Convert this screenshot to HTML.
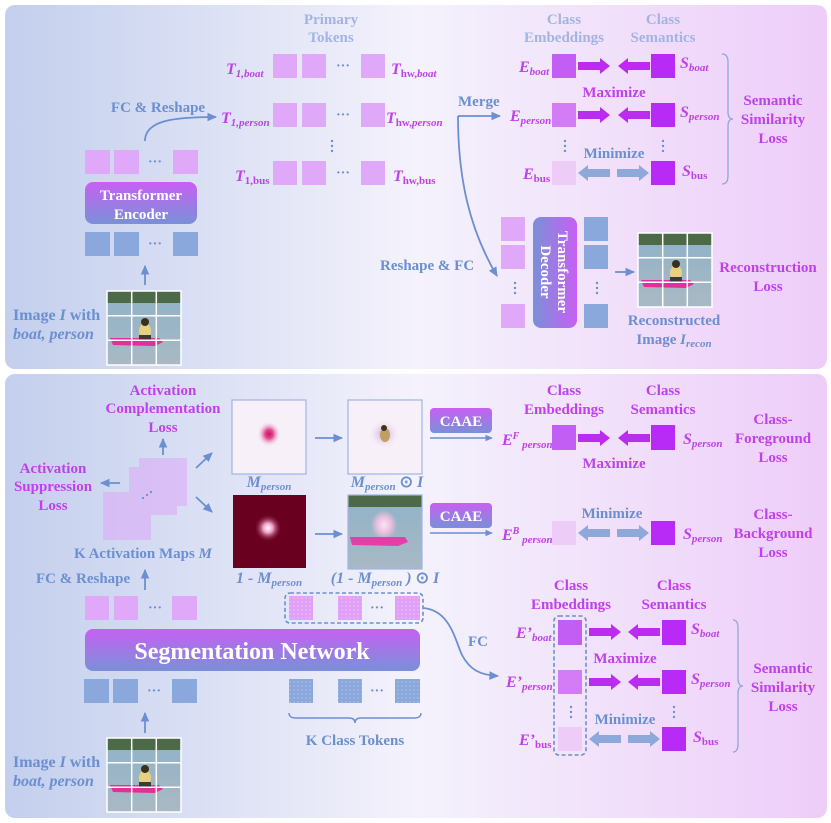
<!DOCTYPE html>
<html><head><meta charset="utf-8"><style>
html,body{margin:0;padding:0;background:#fff;}
svg{display:block;font-family:"Liberation Serif",serif;font-weight:bold;}
</style></head><body>
<svg width="831" height="823" viewBox="0 0 831 823" xmlns="http://www.w3.org/2000/svg">
<defs>
<linearGradient id="bg" x1="0" x2="1" y1="0" y2="0">
<stop offset="0" stop-color="#c3cfed"/><stop offset="0.5" stop-color="#f4f2fc"/><stop offset="1" stop-color="#eecdf9"/>
</linearGradient>
<linearGradient id="box" x1="0" x2="0" y1="0" y2="1">
<stop offset="0" stop-color="#c760f3"/><stop offset="1" stop-color="#7a90d8"/>
</linearGradient>
<linearGradient id="boxh" x1="0" x2="1" y1="0" y2="0">
<stop offset="0" stop-color="#7a90d8"/><stop offset="1" stop-color="#c760f3"/>
</linearGradient>
<linearGradient id="water" x1="0" x2="0" y1="0" y2="1">
<stop offset="0" stop-color="#8fb2c8"/><stop offset="1" stop-color="#a9b9c4"/>
</linearGradient>
<radialGradient id="blob"><stop offset="0" stop-color="#d0105a"/><stop offset="0.35" stop-color="#e04a90"/><stop offset="1" stop-color="#f6f0f8" stop-opacity="0"/></radialGradient>
<radialGradient id="blobw"><stop offset="0" stop-color="#ffffff"/><stop offset="0.35" stop-color="#f0a0c8"/><stop offset="1" stop-color="#6a0020" stop-opacity="0"/></radialGradient>
<radialGradient id="halo"><stop offset="0" stop-color="#f4e8f0"/><stop offset="0.5" stop-color="#f0c0e0"/><stop offset="1" stop-color="#f0c0e0" stop-opacity="0"/></radialGradient>
<radialGradient id="halo2"><stop offset="0" stop-color="#b060c0" stop-opacity="0.6"/><stop offset="1" stop-color="#f7f0f8" stop-opacity="0"/></radialGradient>
<pattern id="dots" width="4" height="4" patternUnits="userSpaceOnUse"><circle cx="2" cy="2" r="0.6" fill="#ffffff" opacity="0.5"/></pattern>
<marker id="ah" viewBox="0 0 10 10" refX="8" refY="5" markerWidth="6" markerHeight="6" orient="auto"><path d="M0,1 L9,5 L0,9 z" fill="#6b8fd0"/></marker>
<g id="photo">
<rect width="74" height="74" fill="url(#water)"/>
<rect width="74" height="12" fill="#4d6a48"/>
<path d="M3,47 L52,47 L56,51 L48,55 L6,54 z" fill="#e2309a"/>
<ellipse cx="38" cy="40" rx="6" ry="8" fill="#e8d080"/>
<circle cx="38" cy="31" r="4" fill="#3a3020"/>
<rect x="32" y="44" width="12" height="6" fill="#3a3a3a"/>
<path d="M0,24.7H74M0,49.3H74M24.7,0V74M49.3,0V74" stroke="#fff" stroke-width="1.5"/>
<rect width="74" height="74" fill="none" stroke="#fff" stroke-width="1.5"/>
</g>
<polygon id="arm" points="0,-4 22,-4 22,-8 32,0 22,8 22,4 0,4" fill="#bb2cf0"/>
<polygon id="arb" points="0,-4 22,-4 22,-8 32,0 22,8 22,4 0,4" fill="#8fa8da"/>
</defs>

<rect x="5" y="5" width="822" height="364" rx="10" fill="url(#bg)"/>
<rect x="5" y="374" width="822" height="444" rx="10" fill="url(#bg)"/>

<!-- ========== TOP PANEL ========== -->
<g fill="#a3b3e2" font-size="15" text-anchor="middle">
<text x="331" y="24">Primary</text><text x="331" y="42">Tokens</text>
</g>
<g fill="#e0a8f8">
<rect x="273" y="54" width="24" height="24"/><rect x="302" y="54" width="24" height="24"/><rect x="361" y="54" width="24" height="24"/>
<rect x="273" y="103" width="24" height="24"/><rect x="302" y="103" width="24" height="24"/><rect x="361" y="103" width="24" height="24"/>
<rect x="273" y="161" width="24" height="24"/><rect x="302" y="161" width="24" height="24"/><rect x="361" y="161" width="24" height="24"/>
</g>
<g fill="#6b8fd0" font-size="14" text-anchor="middle">
<text x="343" y="70">···</text><text x="343" y="119">···</text><text x="343" y="177">···</text>
</g>
<g fill="#6b8fd0"><circle cx="332" cy="141" r="1.2"/><circle cx="332" cy="146" r="1.2"/><circle cx="332" cy="151" r="1.2"/></g>
<g fill="#c040ec" font-style="italic" font-size="16">
<text x="226" y="74">T<tspan font-size="11" dy="3">1,boat</tspan></text>
<text x="221" y="123">T<tspan font-size="11" dy="3">1,person</tspan></text>
<text x="235" y="181">T<tspan font-size="11" dy="3" font-style="normal">1,bus</tspan></text>
<text x="391" y="74">T<tspan font-size="11" dy="3" font-style="normal">hw,</tspan><tspan font-size="11">boat</tspan></text>
<text x="386" y="123">T<tspan font-size="11" dy="3" font-style="normal">hw,</tspan><tspan font-size="11">person</tspan></text>
<text x="393" y="181">T<tspan font-size="11" dy="3" font-style="normal">hw,bus</tspan></text>
</g>
<text x="158" y="112" fill="#6b8fd0" font-size="15" text-anchor="middle">FC &amp; Reshape</text>
<path d="M145,141 C145,120 175,117 216,117" fill="none" stroke="#6b8fd0" stroke-width="1.8" marker-end="url(#ah)"/>
<g fill="#e0a8f8"><rect x="85" y="150" width="25" height="24"/><rect x="114" y="150" width="25" height="24"/><rect x="173" y="150" width="25" height="24"/></g>
<text x="155" y="166" fill="#6b8fd0" font-size="14" text-anchor="middle">···</text>
<rect x="85" y="182" width="112" height="42" rx="8" fill="url(#box)"/>
<text x="141" y="200" fill="#fff" font-size="15" text-anchor="middle">Transformer</text>
<text x="141" y="219" fill="#fff" font-size="15" text-anchor="middle">Encoder</text>
<g fill="#8aa8dc"><rect x="85" y="232" width="25" height="24"/><rect x="114" y="232" width="25" height="24"/><rect x="173" y="232" width="25" height="24"/></g>
<text x="155" y="248" fill="#6b8fd0" font-size="14" text-anchor="middle">···</text>
<line x1="145" y1="285" x2="145" y2="266" stroke="#6b8fd0" stroke-width="1.8" marker-end="url(#ah)"/>
<use href="#photo" x="107" y="291"/>
<g fill="#6b8fd0" font-size="16"><text x="13" y="320">Image <tspan font-style="italic">I</tspan> with</text><text x="13" y="339" font-style="italic">boat, person</text></g>

<!-- right top -->
<g fill="#a3b3e2" font-size="15" text-anchor="middle">
<text x="564" y="24">Class</text><text x="564" y="42">Embeddings</text>
<text x="663" y="24">Class</text><text x="663" y="42">Semantics</text>
</g>
<rect x="552" y="54" width="24" height="24" fill="#c35ef5"/>
<rect x="552" y="103" width="24" height="24" fill="#d37cf5"/>
<rect x="552" y="161" width="24" height="24" fill="#eeccf8"/>
<g fill="#b82af5"><rect x="651" y="54" width="24" height="24"/><rect x="651" y="103" width="24" height="24"/><rect x="651" y="161" width="24" height="24"/></g>
<use href="#arm" x="578" y="66"/><use href="#arm" transform="translate(650,66) scale(-1,1)"/>
<use href="#arm" x="578" y="115"/><use href="#arm" transform="translate(650,115) scale(-1,1)"/>
<use href="#arb" transform="translate(610,173) scale(-1,1)"/><use href="#arb" x="617" y="173"/>
<g fill="#6b8fd0"><circle cx="565" cy="141" r="1.2"/><circle cx="565" cy="146" r="1.2"/><circle cx="565" cy="151" r="1.2"/><circle cx="663" cy="141" r="1.2"/><circle cx="663" cy="146" r="1.2"/><circle cx="663" cy="151" r="1.2"/></g>
<text x="614" y="97" fill="#c040ec" font-size="15" text-anchor="middle">Maximize</text>
<text x="614" y="158" fill="#6b8fd0" font-size="15" text-anchor="middle">Minimize</text>
<g fill="#c040ec" font-style="italic" font-size="16">
<text x="519" y="72">E<tspan font-size="11" dy="3">boat</tspan></text>
<text x="510" y="121">E<tspan font-size="11" dy="3">person</tspan></text>
<text x="523" y="179">E<tspan font-size="11" dy="3" font-style="normal">bus</tspan></text>
<text x="680" y="68">S<tspan font-size="11" dy="3">boat</tspan></text>
<text x="680" y="117">S<tspan font-size="11" dy="3">person</tspan></text>
<text x="682" y="176">S<tspan font-size="11" dy="3" font-style="normal">bus</tspan></text>
</g>
<path d="M722,54 Q728,54 728,62 L728,112 Q728,119 733,119 Q728,119 728,126 L728,176 Q728,184 722,184" fill="none" stroke="#8fa8da" stroke-width="1.3"/>
<g fill="#c040ec" font-size="15" text-anchor="middle"><text x="773" y="105">Semantic</text><text x="773" y="124">Similarity</text><text x="773" y="143">Loss</text></g>
<text x="458" y="106" fill="#6b8fd0" font-size="15">Merge</text>
<path d="M458,116 C458,180 470,230 497,276" fill="none" stroke="#6b8fd0" stroke-width="1.8" marker-end="url(#ah)"/>
<path d="M458,116 L500,116" fill="none" stroke="#6b8fd0" stroke-width="1.8" marker-end="url(#ah)"/>
<text x="380" y="270" fill="#6b8fd0" font-size="15">Reshape &amp; FC</text>
<g fill="#e0a8f8"><rect x="501" y="217" width="24" height="24"/><rect x="501" y="245" width="24" height="24"/><rect x="501" y="304" width="24" height="24"/></g>
<g fill="#8aa8dc"><rect x="584" y="217" width="24" height="24"/><rect x="584" y="245" width="24" height="24"/><rect x="584" y="304" width="24" height="24"/></g>
<g fill="#6b8fd0"><circle cx="515" cy="283" r="1.2"/><circle cx="515" cy="288" r="1.2"/><circle cx="515" cy="293" r="1.2"/><circle cx="597" cy="283" r="1.2"/><circle cx="597" cy="288" r="1.2"/><circle cx="597" cy="293" r="1.2"/></g>
<rect x="533" y="217" width="44" height="111" rx="8" fill="url(#boxh)"/>
<g transform="translate(555,272) rotate(90)" fill="#fff" font-size="15" text-anchor="middle"><text x="0" y="-3">Transformer</text><text x="0" y="14">Decoder</text></g>
<line x1="615" y1="272" x2="634" y2="272" stroke="#6b8fd0" stroke-width="1.8" marker-end="url(#ah)"/>
<use href="#photo" x="638" y="233"/>
<g fill="#c040ec" font-size="15" text-anchor="middle"><text x="768" y="272">Reconstruction</text><text x="768" y="291">Loss</text></g>
<g fill="#6b8fd0" font-size="15" text-anchor="middle"><text x="674" y="325">Reconstructed</text><text x="674" y="344">Image <tspan font-style="italic">I</tspan><tspan font-style="italic" font-size="11" dy="3">recon</tspan></text></g>

<!-- ========== BOTTOM PANEL ========== -->
<g fill="#c040ec" font-size="15" text-anchor="middle">
<text x="163" y="395">Activation</text><text x="163" y="413">Complementation</text><text x="163" y="432">Loss</text>
<text x="53" y="473">Activation</text><text x="53" y="491">Suppression</text><text x="53" y="510">Loss</text>
</g>
<line x1="163" y1="455" x2="163" y2="439" stroke="#6b8fd0" stroke-width="1.8" marker-end="url(#ah)"/>
<line x1="120" y1="483" x2="101" y2="483" stroke="#6b8fd0" stroke-width="1.8" marker-end="url(#ah)"/>
<g fill="#dca8f8" opacity="0.55"><rect x="139" y="458" width="48" height="48"/><rect x="129" y="467" width="48" height="48"/><rect x="103" y="492" width="48" height="48"/></g>
<g fill="#6b8fd0"><circle cx="143" cy="498" r="1.1"/><circle cx="147" cy="495" r="1.1"/><circle cx="151" cy="492" r="1.1"/></g>
<line x1="196" y1="468" x2="212" y2="453" stroke="#6b8fd0" stroke-width="1.8" marker-end="url(#ah)"/>
<line x1="196" y1="497" x2="212" y2="512" stroke="#6b8fd0" stroke-width="1.8" marker-end="url(#ah)"/>
<!-- maps -->
<rect x="232" y="400" width="74" height="74" fill="#f7f0f8" stroke="#9fb4e4" stroke-width="1.2"/>
<ellipse cx="269" cy="434" rx="12" ry="13" fill="url(#blob)"/>
<rect x="348" y="400" width="74" height="74" fill="#f7f0f8" stroke="#9fb4e4" stroke-width="1.2"/>
<ellipse cx="384" cy="434" rx="16" ry="15" fill="url(#halo2)"/>
<ellipse cx="385" cy="435" rx="5" ry="7" fill="#c0a060"/><circle cx="384" cy="428" r="3" fill="#403020"/>
<rect x="233" y="495" width="73" height="73" fill="#6a0020"/>
<ellipse cx="268" cy="528" rx="14" ry="14" fill="url(#blobw)"/>
<rect x="348" y="495" width="74" height="74" fill="url(#water)"/>
<rect x="348" y="495" width="74" height="12" fill="#4d6a48"/>
<ellipse cx="384" cy="525" rx="13" ry="15" fill="url(#halo)"/>
<path d="M350,537 L405,537 L408,542 L398,546 L352,545 z" fill="#e040a8"/>
<rect x="348" y="495" width="74" height="74" fill="none" stroke="#9fb4e4" stroke-width="1.2"/>
<line x1="315" y1="438" x2="342" y2="438" stroke="#6b8fd0" stroke-width="1.8" marker-end="url(#ah)"/>
<line x1="315" y1="534" x2="342" y2="534" stroke="#6b8fd0" stroke-width="1.8" marker-end="url(#ah)"/>
<g fill="#6b8fd0" font-size="16" font-style="italic" text-anchor="middle">
<text x="269" y="487">M<tspan font-size="11" dy="3">person</tspan></text>
<text x="387" y="487">M<tspan font-size="11" dy="3">person</tspan><tspan dy="-3" font-style="normal"> ⊙ </tspan>I</text>
<text x="269" y="583">1 - M<tspan font-size="11" dy="3">person</tspan></text>
<text x="385" y="583">(1 - M<tspan font-size="11" dy="3">person</tspan><tspan dy="-3"> ) </tspan><tspan font-style="normal">⊙</tspan> I</text>
</g>
<text x="74" y="558" fill="#6b8fd0" font-size="15">K Activation Maps <tspan font-style="italic">M</tspan></text>
<text x="36" y="583" fill="#6b8fd0" font-size="15">FC &amp; Reshape</text>
<line x1="145" y1="590" x2="145" y2="570" stroke="#6b8fd0" stroke-width="1.8" marker-end="url(#ah)"/>
<g fill="#e0a8f8"><rect x="85" y="596" width="24" height="24"/><rect x="114" y="596" width="24" height="24"/><rect x="172" y="596" width="25" height="24"/></g>
<text x="155" y="612" fill="#6b8fd0" font-size="14" text-anchor="middle">···</text>
<rect x="85" y="629" width="335" height="42" rx="8" fill="url(#box)"/>
<text x="252" y="659" fill="#fff" font-size="24" text-anchor="middle">Segmentation Network</text>
<g fill="#8aa8dc"><rect x="84" y="679" width="25" height="24"/><rect x="113" y="679" width="25" height="24"/><rect x="172" y="679" width="25" height="24"/></g>
<text x="154" y="695" fill="#6b8fd0" font-size="14" text-anchor="middle">···</text>
<!-- class tokens -->
<rect x="285" y="593" width="138" height="30" rx="5" fill="none" stroke="#6b8fd0" stroke-width="1.6" stroke-dasharray="4,2.5"/>
<g fill="#e0a0f8"><rect x="289" y="596" width="24" height="24"/><rect x="338" y="596" width="24" height="24"/><rect x="395" y="596" width="25" height="24"/></g>
<g fill="#8aa8dc"><rect x="289" y="679" width="24" height="24"/><rect x="338" y="679" width="24" height="24"/><rect x="395" y="679" width="25" height="24"/></g>
<g fill="url(#dots)"><rect x="289" y="596" width="24" height="24"/><rect x="338" y="596" width="24" height="24"/><rect x="395" y="596" width="25" height="24"/><rect x="289" y="679" width="24" height="24"/><rect x="338" y="679" width="24" height="24"/><rect x="395" y="679" width="25" height="24"/></g>
<text x="377" y="612" fill="#6b8fd0" font-size="14" text-anchor="middle">···</text>
<text x="377" y="695" fill="#6b8fd0" font-size="14" text-anchor="middle">···</text>
<path d="M289,713 Q289,718 296,718 L349,718 Q355,718 355,723 Q355,718 361,718 L414,718 Q421,718 421,713" fill="none" stroke="#6b8fd0" stroke-width="1.4"/>
<text x="355" y="745" fill="#6b8fd0" font-size="15" text-anchor="middle">K Class Tokens</text>
<line x1="145" y1="733" x2="145" y2="713" stroke="#6b8fd0" stroke-width="1.8" marker-end="url(#ah)"/>
<use href="#photo" x="107" y="738"/>
<g fill="#6b8fd0" font-size="16"><text x="13" y="767">Image <tspan font-style="italic">I</tspan> with</text><text x="13" y="786" font-style="italic">boat, person</text></g>
<!-- FC arc -->
<path d="M423,608 C450,610 455,640 462,655 C470,670 480,675 498,676" fill="none" stroke="#6b8fd0" stroke-width="1.8" marker-end="url(#ah)"/>
<text x="468" y="646" fill="#6b8fd0" font-size="15">FC</text>
<!-- CAAE -->
<rect x="430" y="408" width="62" height="25" rx="4" fill="url(#box)"/>
<text x="461" y="426" fill="#fff" font-size="15" text-anchor="middle">CAAE</text>
<line x1="430" y1="438" x2="492" y2="438" stroke="#6b8fd0" stroke-width="1.4" marker-end="url(#ah)"/>
<rect x="430" y="503" width="62" height="25" rx="4" fill="url(#box)"/>
<text x="461" y="521" fill="#fff" font-size="15" text-anchor="middle">CAAE</text>
<line x1="430" y1="533" x2="492" y2="533" stroke="#6b8fd0" stroke-width="1.4" marker-end="url(#ah)"/>
<!-- foreground/background -->
<g fill="#c040ec" font-size="15" text-anchor="middle">
<text x="564" y="395">Class</text><text x="564" y="414">Embeddings</text>
<text x="663" y="395">Class</text><text x="663" y="414">Semantics</text>
<text x="773" y="424">Class-</text><text x="773" y="443">Foreground</text><text x="773" y="462">Loss</text>
<text x="773" y="519">Class-</text><text x="773" y="538">Background</text><text x="773" y="557">Loss</text>
<text x="614" y="468">Maximize</text>
</g>
<text x="612" y="518" fill="#6b8fd0" font-size="15" text-anchor="middle">Minimize</text>
<rect x="552" y="425" width="24" height="25" fill="#c35ef5"/>
<rect x="651" y="425" width="24" height="25" fill="#b82af5"/>
<use href="#arm" x="578" y="438"/><use href="#arm" transform="translate(650,438) scale(-1,1)"/>
<rect x="552" y="521" width="24" height="24" fill="#eeccf8"/>
<rect x="651" y="521" width="24" height="24" fill="#b82af5"/>
<use href="#arb" transform="translate(610,533) scale(-1,1)"/><use href="#arb" x="617" y="533"/>
<g fill="#c040ec" font-style="italic" font-size="16">
<text x="502" y="445">E<tspan font-size="10" dy="-6">F</tspan><tspan font-size="11" dy="9"> person</tspan></text>
<text x="502" y="540">E<tspan font-size="10" dy="-6">B</tspan><tspan font-size="11" dy="9"> person</tspan></text>
<text x="683" y="444">S<tspan font-size="11" dy="3">person</tspan></text>
<text x="683" y="539">S<tspan font-size="11" dy="3">person</tspan></text>
</g>
<!-- semantic similarity bottom -->
<g fill="#c040ec" font-size="15" text-anchor="middle">
<text x="571" y="590">Class</text><text x="571" y="609">Embeddings</text>
<text x="674" y="590">Class</text><text x="674" y="609">Semantics</text>
<text x="625" y="663">Maximize</text>
<text x="783" y="673">Semantic</text><text x="783" y="692">Similarity</text><text x="783" y="711">Loss</text>
</g>
<text x="625" y="724" fill="#6b8fd0" font-size="15" text-anchor="middle">Minimize</text>
<rect x="558" y="620" width="24" height="25" fill="#c35ef5"/>
<rect x="558" y="670" width="24" height="24" fill="#d37cf5"/>
<rect x="558" y="727" width="24" height="24" fill="#eeccf8"/>
<g fill="#b82af5"><rect x="662" y="620" width="24" height="25"/><rect x="662" y="670" width="24" height="24"/><rect x="662" y="727" width="24" height="24"/></g>
<rect x="554" y="616" width="32" height="139" rx="5" fill="none" stroke="#6b8fd0" stroke-width="1.6" stroke-dasharray="4,2.5"/>
<use href="#arm" x="589" y="632"/><use href="#arm" transform="translate(660,632) scale(-1,1)"/>
<use href="#arm" x="589" y="682"/><use href="#arm" transform="translate(660,682) scale(-1,1)"/>
<use href="#arb" transform="translate(621,739) scale(-1,1)"/><use href="#arb" x="628" y="739"/>
<g fill="#6b8fd0"><circle cx="571" cy="707" r="1.2"/><circle cx="571" cy="712" r="1.2"/><circle cx="571" cy="717" r="1.2"/><circle cx="674" cy="707" r="1.2"/><circle cx="674" cy="712" r="1.2"/><circle cx="674" cy="717" r="1.2"/></g>
<g fill="#c040ec" font-style="italic" font-size="16">
<text x="516" y="638">E’<tspan font-size="11" dy="3">boat</tspan></text>
<text x="506" y="687">E’<tspan font-size="11" dy="3">person</tspan></text>
<text x="519" y="745">E’<tspan font-size="11" dy="3" font-style="normal">bus</tspan></text>
<text x="691" y="634">S<tspan font-size="11" dy="3">boat</tspan></text>
<text x="691" y="684">S<tspan font-size="11" dy="3">person</tspan></text>
<text x="693" y="742">S<tspan font-size="11" dy="3" font-style="normal">bus</tspan></text>
</g>
<path d="M733,620 Q738,620 738,628 L738,678 Q738,686 743,686 Q738,686 738,694 L738,744 Q738,752 733,752" fill="none" stroke="#8fa8da" stroke-width="1.3"/>
</svg>
</body></html>
